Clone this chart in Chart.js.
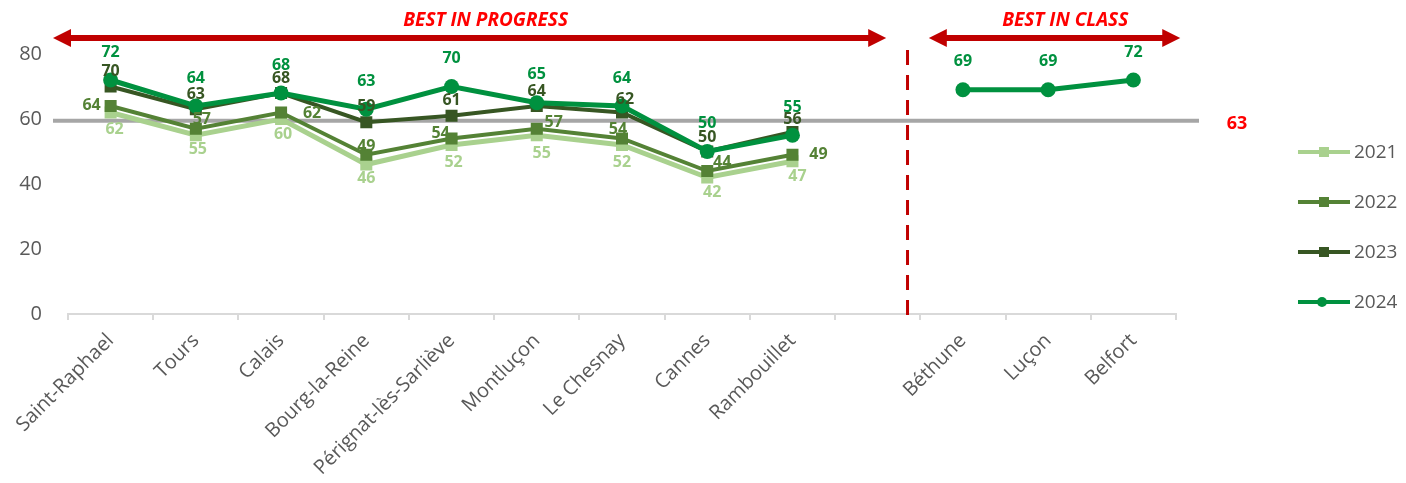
<!DOCTYPE html>
<html>
<head>
<meta charset="utf-8">
<script src="https://cdn.jsdelivr.net/npm/chart.js@4.4.0/dist/chart.umd.min.js"></script>
<style>
  html, body { margin: 0; padding: 0; background: #fff; }
  #wrap { width: 1406px; height: 483px; position: relative; }
</style>
</head>
<body>
<div id="wrap"><canvas id="chart"></canvas></div>
<script>
// data
const cities = ["Saint-Raphael", "Tours", "Calais", "Bourg-la-Reine", "Pérignat-lès-Sarliève", "Montluçon",
  "Le Chesnay", "Cannes", "Rambouillet", "", "Béthune", "Luçon", "Belfort"];
const years = ["2021", "2022", "2023", "2024"];
const v2021 = [62, 55, 60, 46, 52, 55, 52, 42, 47, null, null, null, null];
const v2022 = [64, 57, 62, 49, 54, 57, 54, 44, 49, null, null, null, null];
const v2023 = [70, 63, 68, 59, 61, 64, 62, 50, 56, null, null, null, null];
const v2024 = [72, 64, 68, 63, 70, 65, 64, 50, 55, null, 69, 69, 72];
const yMin = 0, yMax = 80, yStep = 20;
const avgLevel = 59.5;   // where the grey line sits
const avgText = "63";
const progressText = "BEST IN PROGRESS";
const classText = "BEST IN CLASS";

// styles
const colors = ["#a9d18e", "#548235", "#375623", "#00913f"];
const FONT = "'Open Sans', 'DejaVu Sans', sans-serif";
const DARK_RED = "#c00000";

// label offsets (px) for the value labels, per series and point
const off2021 = [[4, 17], [2, 14], [2, 15], [0, 14], [2, 17], [5, 18], [0, 17], [5, 15], [5, 15]];
const off2022 = [[-19, -1], [6, -9], [31, 1], [0, -8], [-11, -5], [17, -6], [-4, -9], [15, -9], [26, 0]];
const off2023 = [[0, -15], [0, -15], [0, -15], [0, -16], [0, -15], [0, -15], [3, -13], [0, -14], [0, -13]];
const off2024 = cities.map(() => [0, -28]);
const offsets = [off2021, off2022, off2023, off2024];

const values = [v2021, v2022, v2023, v2024];
const datasets = years.map((yr, i) => ({
  label: yr,
  data: values[i],
  borderColor: colors[i],
  backgroundColor: colors[i],
  borderWidth: i === 3 ? 5 : (i === 0 ? 5 : 4),
  pointStyle: i === 3 ? "circle" : "rect",
  pointRadius: i === 3 ? 7.5 : 8.5,
  pointHoverRadius: i === 3 ? 7.5 : 8.5,
  pointBorderWidth: 0,
  tension: 0,
  order: 4 - i,
  clip: false
}));

function arrow(ctx, x1, x2, y) {
  const hl = 18, hw = 9, t = 3;
  ctx.fillStyle = DARK_RED;
  ctx.fillRect(x1 + hl - 1, y - t, x2 - x1 - 2 * hl + 2, 2 * t);
  ctx.beginPath();
  ctx.moveTo(x1, y); ctx.lineTo(x1 + hl, y - hw); ctx.lineTo(x1 + hl, y + hw); ctx.closePath();
  ctx.fill();
  ctx.beginPath();
  ctx.moveTo(x2, y); ctx.lineTo(x2 - hl, y - hw); ctx.lineTo(x2 - hl, y + hw); ctx.closePath();
  ctx.fill();
}

const decor = {
  id: "decor",
  beforeDatasetsDraw(chart) {
    const { ctx, chartArea: a, scales: { x, y } } = chart;
    const gy = y.getPixelForValue(avgLevel);
    ctx.save();
    ctx.strokeStyle = "#a6a6a6";
    ctx.lineWidth = 4;
    ctx.beginPath();
    ctx.moveTo(a.left - 15, gy);
    ctx.lineTo(a.right + 23, gy);
    ctx.stroke();

    const sx = x.getPixelForValue(9.35);
    ctx.strokeStyle = DARK_RED;
    ctx.lineWidth = 3;
    ctx.setLineDash([15, 10]);
    ctx.beginPath();
    ctx.moveTo(sx, a.top - 4);
    ctx.lineTo(sx, a.bottom + 4);
    ctx.stroke();
    ctx.restore();
  },
  afterDatasetsDraw(chart) {
    const { ctx, chartArea: a, scales: { x, y } } = chart;
    ctx.save();
    ctx.font = "bold 16px " + FONT;
    ctx.textAlign = "center";
    ctx.textBaseline = "middle";
    chart.data.datasets.forEach((ds, i) => {
      ds.data.forEach((v, j) => {
        if (v === null) return;
        const o = offsets[i][j];
        ctx.fillStyle = colors[i];
        ctx.fillText(String(v), x.getPixelForValue(j) + o[0], y.getPixelForValue(v) + o[1]);
      });
    });

    // average value on the right
    ctx.fillStyle = "#ff0000";
    ctx.font = "bold 18px " + FONT;
    ctx.fillText(avgText, a.right + 61, y.getPixelForValue(avgLevel) + 3);

    // arrows + titles
    const ay = a.top - 16;
    arrow(ctx, a.left - 15, x.getPixelForValue(9.1), ay);
    arrow(ctx, x.getPixelForValue(9.6), x.getPixelForValue(12.55), ay);
    ctx.fillStyle = "#ff0000";
    ctx.font = "italic bold 19px " + FONT;
    ctx.fillText(progressText, x.getPixelForValue(4.4), a.top - 33);
    ctx.fillText(classText, x.getPixelForValue(11.2), a.top - 33);

    // legend
    const lx = a.right + 122;
    years.forEach((yr, i) => {
      const ly = a.top + 98 + i * 50;
      ctx.strokeStyle = colors[i];
      ctx.fillStyle = colors[i];
      ctx.lineWidth = 4;
      ctx.beginPath();
      ctx.moveTo(lx, ly);
      ctx.lineTo(lx + 52, ly);
      ctx.stroke();
      if (i === 3) {
        ctx.beginPath();
        ctx.arc(lx + 24, ly, 5, 0, Math.PI * 2);
        ctx.fill();
      } else {
        ctx.fillRect(lx + 21, ly - 5, 10, 10);
      }
      ctx.fillStyle = "#595959";
      ctx.font = "19px " + FONT;
      ctx.textAlign = "left";
      ctx.fillText(yr, lx + 56, ly + 1);
      ctx.textAlign = "center";
    });
    ctx.restore();
  }
};

new Chart(document.getElementById("chart"), {
  type: "line",
  data: { labels: cities, datasets },
  options: {
    responsive: true,
    maintainAspectRatio: false,
    animation: false,
    layout: { padding: { top: 54, right: 230, left: 0, bottom: 0 } },
    plugins: { legend: { display: false }, tooltip: { enabled: false } },
    scales: {
      x: {
        offset: true,
        grid: { offset: true, drawOnChartArea: false, color: "#d9d9d9", lineWidth: 2, tickLength: 6 },
        border: { display: true, color: "#d9d9d9", width: 2 },
        ticks: {
          autoSkip: false,
          minRotation: 45,
          maxRotation: 45,
          color: "#595959",
          font: { family: FONT, size: 20 },
          padding: 9
        },
        afterFit(scale) { scale.height = 169; }
      },
      y: {
        min: yMin,
        max: yMax,
        grid: { display: false },
        border: { display: false },
        ticks: { stepSize: yStep, color: "#595959", font: { family: FONT, size: 20 }, padding: 18 },
        afterFit(scale) { scale.width = 68; }
      }
    }
  },
  plugins: [decor]
});
</script>
</body>
</html>
